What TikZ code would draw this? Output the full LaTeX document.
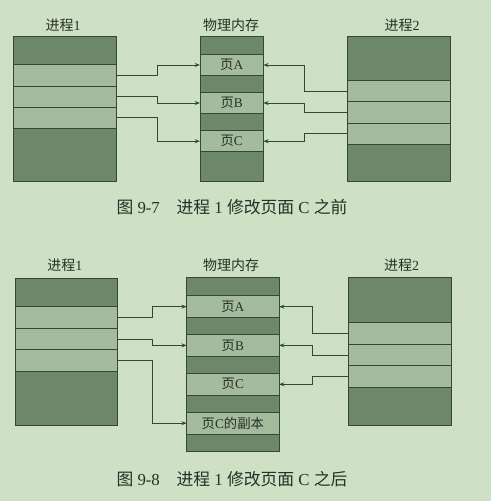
\documentclass[tikz,border=0pt]{standalone}
\usepackage{fontspec}
\setmainfont{Liberation Serif}
\newfontfamily\cjk{Noto Sans CJK SC}
\usetikzlibrary{arrows.meta}
\definecolor{bg}{HTML}{CFE1C5}
\definecolor{darkcell}{HTML}{6E886A}
\definecolor{lightcell}{HTML}{A5BB9E}
\definecolor{edge}{HTML}{36463A}
\definecolor{ink}{HTML}{263026}
\newcommand\cellnode[7]{\node[cellbox, fill=#6, minimum width={(#4-#2)*0.75pt}, minimum height={(#5-#3)*0.75pt}] (#1) at ({(#2+#4)/2},{(#3+#5)/2}) {#7};}
\begin{document}
\begin{tikzpicture}[x=0.75pt,y=-0.75pt,
  cellbox/.style={draw=edge, line width=0.7pt, inner sep=0pt, outer sep=0pt, text=ink, font=\fontsize{10}{12}\selectfont},
  title/.style={text=ink, font=\fontsize{10.5}{12}\selectfont, inner sep=0pt},
  caption/.style={text=ink, font=\fontsize{12.6}{14}\selectfont, inner sep=0pt},
  arr/.style={draw=edge, line width=0.75pt, -{Stealth[length=4pt,width=3pt]}}]
\fill[bg] (0,0) rectangle (491,501);
\useasboundingbox (0,0) rectangle (491,501);
% ---------- Figure 9-7 ----------
\node[title] (t1a) at (63,25) {{\cjk 进程}1};
\node[title] (t1b) at (231,25) {\cjk 物理内存};
\node[title] (t1c) at (402,25) {{\cjk 进程}2};
% process 1
\cellnode{ua0}{13.3}{36.7}{116.7}{64.3}{darkcell}{}
\cellnode{ua1}{13.3}{64.3}{116.7}{86}{lightcell}{}
\cellnode{ua2}{13.3}{86}{116.7}{107.3}{lightcell}{}
\cellnode{ua3}{13.3}{107.3}{116.7}{128.3}{lightcell}{}
\cellnode{ua4}{13.3}{128.3}{116.7}{181.7}{darkcell}{}
% physical memory
\cellnode{um0}{200}{36.7}{263.3}{54.3}{darkcell}{}
\cellnode{umA}{200}{54.3}{263.3}{75.7}{lightcell}{{\cjk 页}A}
\cellnode{um1}{200}{75.7}{263.3}{92.7}{darkcell}{}
\cellnode{umB}{200}{92.7}{263.3}{113.3}{lightcell}{{\cjk 页}B}
\cellnode{um2}{200}{113.3}{263.3}{130.7}{darkcell}{}
\cellnode{umC}{200}{130.7}{263.3}{151.7}{lightcell}{{\cjk 页}C}
\cellnode{um3}{200}{151.7}{263.3}{181.7}{darkcell}{}
% process 2
\cellnode{ub0}{347.7}{36}{450}{80.3}{darkcell}{}
\cellnode{ub1}{347.7}{80.3}{450}{101.7}{lightcell}{}
\cellnode{ub2}{347.7}{101.7}{450}{123}{lightcell}{}
\cellnode{ub3}{347.7}{123}{450}{144}{lightcell}{}
\cellnode{ub4}{347.7}{144}{450}{181.7}{darkcell}{}
% arrows
\draw[arr] (ua1.east) -- ++(41,0) |- (umA.west);
\draw[arr] (ua2.east) -- ++(41,0) |- (umB.west);
\draw[arr] (ua3.east) -- ++(41,0) |- (umC.west);
\draw[arr] (ub1.west) -- ++(-43.7,0) |- (umA.east);
\draw[arr] (ub2.west) -- ++(-43.7,0) |- (umB.east);
\draw[arr] (ub3.west) -- ++(-43.7,0) |- (umC.east);
\node[caption] (cap1) at (232,207) {{\cjk 图} 9-7\quad{\cjk 进程} 1 {\cjk 修改页面} C {\cjk 之前}};
% ---------- Figure 9-8 ----------
\node[title] (t2a) at (65,265) {{\cjk 进程}1};
\node[title] (t2b) at (231,265) {\cjk 物理内存};
\node[title] (t2c) at (401.7,265) {{\cjk 进程}2};
% process 1
\cellnode{la0}{15}{278.3}{117.3}{306.7}{darkcell}{}
\cellnode{la1}{15}{306.7}{117.3}{328.3}{lightcell}{}
\cellnode{la2}{15}{328.3}{117.3}{349.7}{lightcell}{}
\cellnode{la3}{15}{349.7}{117.3}{371.3}{lightcell}{}
\cellnode{la4}{15}{371.3}{117.3}{425.7}{darkcell}{}
% physical memory
\cellnode{lm0}{186.7}{277.7}{279}{295.7}{darkcell}{}
\cellnode{lmA}{186.7}{295.7}{279}{317.7}{lightcell}{{\cjk 页}A}
\cellnode{lm1}{186.7}{317.7}{279}{334.7}{darkcell}{}
\cellnode{lmB}{186.7}{334.7}{279}{356}{lightcell}{{\cjk 页}B}
\cellnode{lm2}{186.7}{356}{279}{373.3}{darkcell}{}
\cellnode{lmC}{186.7}{373.3}{279}{395.3}{lightcell}{{\cjk 页}C}
\cellnode{lm3}{186.7}{395.3}{279}{412.3}{darkcell}{}
\cellnode{lmD}{186.7}{412.3}{279}{434}{lightcell}{{\cjk 页}C{\cjk 的副本}}
\cellnode{lm4}{186.7}{434}{279}{451.7}{darkcell}{}
% process 2
\cellnode{lb0}{348.3}{277.3}{451}{322.7}{darkcell}{}
\cellnode{lb1}{348.3}{322.7}{451}{344.3}{lightcell}{}
\cellnode{lb2}{348.3}{344.3}{451}{365.7}{lightcell}{}
\cellnode{lb3}{348.3}{365.7}{451}{387}{lightcell}{}
\cellnode{lb4}{348.3}{387}{451}{425.7}{darkcell}{}
% arrows
\draw[arr] (la1.east) -- ++(35,0) |- (lmA.west);
\draw[arr] (la2.east) -- ++(35,0) |- (lmB.west);
\draw[arr] (la3.east) -- ++(35,0) |- (lmD.west);
\draw[arr] (lb1.west) -- ++(-36,0) |- (lmA.east);
\draw[arr] (lb2.west) -- ++(-36,0) |- (lmB.east);
\draw[arr] (lb3.west) -- ++(-36,0) |- (lmC.east);
\node[caption] (cap2) at (232,479) {{\cjk 图} 9-8\quad{\cjk 进程} 1 {\cjk 修改页面} C {\cjk 之后}};
\end{tikzpicture}
\end{document}
